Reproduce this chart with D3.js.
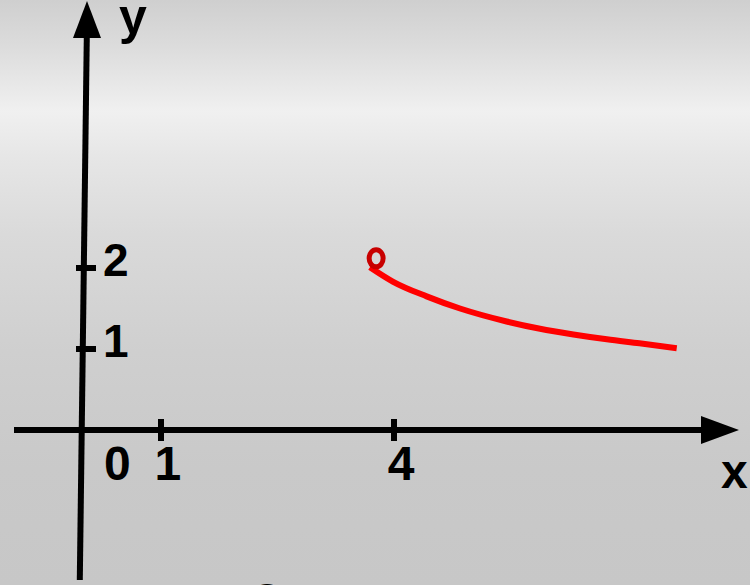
<!DOCTYPE html>
<html>
<head>
<meta charset="utf-8">
<script src="https://cdn.jsdelivr.net/npm/d3@7"></script>
<style>
  html, body { margin: 0; padding: 0; overflow: hidden; }
  svg { display: block; }
  text { font-family: "Liberation Sans", Arial, sans-serif; font-weight: bold; fill: #000; }
</style>
</head>
<body>
<svg id="chart" width="750" height="585"></svg>
<script>
// tick values on the axes
var xTicks = [1, 4];
var yTicks = [1, 2];

// red curve (x, y in axis units)
var curveX = [3.69, 3.99, 4.42, 4.85, 5.45, 5.88, 6.31, 6.74, 7.16, 7.64];
var curveY = [2.01, 1.83, 1.65, 1.50, 1.34, 1.25, 1.18, 1.12, 1.07, 1.01];

// open point at the start of the curve
var holeX = [3.77];
var holeY = [2.12];

var svg = d3.select('#chart'),
	width = +svg.attr('width'),
	height = +svg.attr('height');

var x = d3.scaleLinear().domain([0, 4]).range([83.3, 394]);
var y = d3.scaleLinear().domain([0, 2]).range([430, 268]);

// background - grey with a light band near the top
var grad = svg.append('defs').append('linearGradient')
	.attr('id', 'bg').attr('x1', 0).attr('y1', 0).attr('x2', 0).attr('y2', 1);
[[0, '#cfcfcf'], [0.08, '#dcdcdc'], [0.19, '#f0f0f0'], [0.27, '#e6e6e6'],
 [0.4, '#dadada'], [0.6, '#cfcfcf'], [0.8, '#c9c9c9'], [1, '#c7c7c7']]
	.forEach(function (s) {
		grad.append('stop').attr('offset', s[0]).attr('stop-color', s[1]);
	});
svg.append('rect').attr('width', width).attr('height', height).attr('fill', 'url(#bg)');

var axes = svg.append('g');

// x axis + arrow
axes.append('line')
	.attr('x1', 14).attr('x2', 705)
	.attr('y1', y(0)).attr('y2', y(0))
	.attr('stroke', '#000').attr('stroke-width', 6);
axes.append('path')
	.attr('d', 'M739,' + y(0) + 'L701,' + (y(0) - 14) + 'L701,' + (y(0) + 14) + 'Z')
	.attr('fill', '#000');

// y axis (a little tilted, as in the drawing) + arrow
axes.append('line')
	.attr('x1', x(0) + 3.5).attr('y1', 36)
	.attr('x2', x(0) - 3.5).attr('y2', 580)
	.attr('stroke', '#000').attr('stroke-width', 6);
axes.append('path')
	.attr('d', 'M87,1L73,38L101,38Z')
	.attr('fill', '#000');

// ticks
axes.selectAll('.xt').data(xTicks).enter().append('line')
	.attr('x1', function (d) { return x(d); }).attr('x2', function (d) { return x(d); })
	.attr('y1', y(0) - 11).attr('y2', y(0) + 11)
	.attr('stroke', '#000').attr('stroke-width', 6);
axes.selectAll('.yt').data(yTicks).enter().append('line')
	.attr('x1', 76).attr('x2', 96)
	.attr('y1', function (d) { return y(d); }).attr('y2', function (d) { return y(d); })
	.attr('stroke', '#000').attr('stroke-width', 6);

// tick labels
axes.selectAll('.xl').data(xTicks).enter().append('text')
	.attr('x', function (d) { return x(d) + 7; })
	.attr('y', 480)
	.attr('text-anchor', 'middle')
	.style('font-size', '48px')
	.text(function (d) { return d; });
axes.append('text')
	.attr('x', x(0) + 34).attr('y', 480)
	.attr('text-anchor', 'middle')
	.style('font-size', '48px')
	.text('0');
axes.selectAll('.yl').data(yTicks).enter().append('text')
	.attr('x', 103)
	.attr('y', function (d) { return y(d) + 8; })
	.style('font-size', '46px')
	.text(function (d) { return d; });

// axis names
axes.append('text').attr('x', 119).attr('y', 34).style('font-size', '50px').text('y');
axes.append('text').attr('x', 721).attr('y', 488).style('font-size', '48px').text('x');
// cut-off letter at the very bottom
axes.append('text').attr('x', 267).attr('y', 610).attr('text-anchor', 'middle')
	.style('font-size', '48px').text('о');

// curve
var pts = curveX.map(function (d, i) { return [d, curveY[i]]; });
var line = d3.line()
	.x(function (d) { return x(d[0]); })
	.y(function (d) { return y(d[1]); })
	.curve(d3.curveMonotoneX);
svg.append('path')
	.attr('d', line(pts))
	.attr('fill', 'none')
	.attr('stroke', '#ff0000')
	.attr('stroke-width', 6);

svg.selectAll('.hole').data(holeX).enter().append('ellipse')
	.attr('cx', function (d) { return x(d); })
	.attr('cy', function (d, i) { return y(holeY[i]); })
	.attr('rx', 7).attr('ry', 8.5)
	.attr('fill', 'none')
	.attr('stroke', '#c80000')
	.attr('stroke-width', 5);
</script>
</body>
</html>
